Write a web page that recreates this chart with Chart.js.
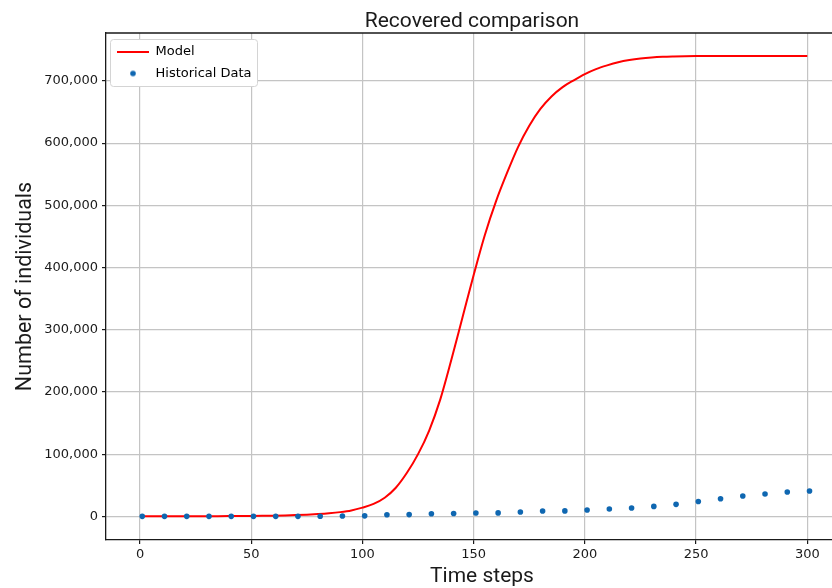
<!DOCTYPE html>
<html>
<head>
<meta charset="utf-8">
<title>Recovered comparison</title>
<script src="https://cdn.jsdelivr.net/npm/chart.js@4.4.1/dist/chart.umd.min.js"></script>
<style>
  html, body { margin: 0; padding: 0; background: #fff; overflow: hidden; }
  #wrap { width: 944px; height: 588px; }
</style>
</head>
<body>
<div id="wrap"><canvas id="chart" width="944" height="588"></canvas></div>
<script>
// --- Data ---
const seriesLabels = ['Model', 'Historical Data'];

const modelSteps = [0, 5, 10, 15, 20, 25, 30, 35, 40, 45,
    50, 55, 60, 65, 70, 75, 80, 85, 90, 95,
    100, 105, 110, 115, 120, 125, 130, 135, 140, 145,
    150, 155, 160, 165, 170, 175, 180, 185, 190, 195,
    200, 205, 210, 215, 220, 225, 230, 235, 240, 245,
    250, 255, 260, 265, 270, 275, 280, 285, 290, 295, 300];
const modelValues = [0, 0, 0, 100, 100, 200, 200, 300, 400, 500,
    600, 800, 1100, 1500, 2000, 2700, 3700, 5000, 6800, 9500,
    14000, 20000, 30000, 46000, 70000, 100000, 138000, 188000, 252000, 320000,
    388000, 452000, 506000, 552000, 594000, 628000, 655000, 675000, 690000, 701000,
    711000, 719000, 725000, 730000, 733500, 736000, 737700, 738800, 739400, 739800,
    740000, 740000, 740000, 740000, 740000, 740000, 740000, 740000, 740000, 740000, 740000];

const histSteps = [1, 11, 21, 31, 41, 51, 61, 71, 81, 91,
    101, 111, 121, 131, 141, 151, 161, 171, 181, 191,
    201, 211, 221, 231, 241, 251, 261, 271, 281, 291, 301];
const histValues = [0, 0, 0, 0, 0, 0, 0, 0, 100, 500,
    800, 2500, 2800, 4300, 4600, 5400, 5600, 7000, 8600, 8800,
    10200, 11800, 13400, 16000, 19300, 24000, 28400, 32700, 35900, 39100, 40700];

const xTicks = [0, 50, 100, 150, 200, 250, 300];
const yTicks = [0, 100000, 200000, 300000, 400000, 500000, 600000, 700000];

// --- Styles ---
const RED = '#ff0000';
const BLUE = '#0f67b1';
const INK = '#1a1a1a';
const GRID = '#c4c4c4';
const tickFont = { family: 'DejaVu Sans', size: 13 };
const titleFont = { family: 'Roboto', size: 21, lineHeight: 1.05 };

// small images used as legend markers (line sample and dot)
function legendMark(kind) {
    const c = document.createElement('canvas');
    const g = c.getContext('2d');
    if (kind === 'line') {
        c.width = 32; c.height = 2;
        g.fillStyle = RED;
        g.fillRect(0, 0, 32, 2);
    } else {
        c.width = 8; c.height = 8;
        g.fillStyle = BLUE;
        g.beginPath();
        g.arc(4, 4, 2.8, 0, Math.PI * 2);
        g.fill();
    }
    return c;
}
const marks = [legendMark('line'), legendMark('dot')];

// frame on top/right and the legend box like matplotlib
const framePlugin = {
    id: 'frame',
    afterLayout(chart) {
        const lg = chart.legend, a = chart.chartArea;
        lg.left = a.left + 2;
        lg.top = a.top + 3;
        lg.bottom = a.bottom;
    },
    afterDraw(chart) {
        const { ctx, chartArea: a } = chart;
        ctx.save();
        ctx.strokeStyle = INK;
        ctx.lineWidth = 1.3;
        ctx.beginPath();
        ctx.moveTo(a.left, a.top);
        ctx.lineTo(a.right, a.top);
        ctx.lineTo(a.right, a.bottom);
        ctx.stroke();

        const boxes = chart.legend.legendHitBoxes || [];
        const right = boxes.length ? Math.max(...boxes.map(b => b.left + b.width)) + 5 : a.left + 150;
        const x = a.left + 4, y = a.top + 6, w = Math.max(right, a.left + 151) - x, h = 47;
        ctx.fillStyle = '#fff';
        ctx.strokeStyle = '#d4d4d4';
        ctx.lineWidth = 1;
        ctx.beginPath();
        if (ctx.roundRect) ctx.roundRect(x + 0.5, y + 0.5, w, h, 3); else ctx.rect(x + 0.5, y + 0.5, w, h);
        ctx.fill();
        ctx.stroke();
        ctx.restore();
        chart.legend.draw();
    }
};

const ctx = document.getElementById('chart').getContext('2d');
const chart = new Chart(ctx, {
    type: 'scatter',
    data: {
        datasets: [{
            label: seriesLabels[0],
            data: modelSteps.map((x, i) => ({ x: x, y: modelValues[i] })),
            showLine: true,
            borderColor: RED,
            borderWidth: 2,
            pointRadius: 0,
            cubicInterpolationMode: 'monotone',
            order: 2
        }, {
            label: seriesLabels[1],
            data: histSteps.map((x, i) => ({ x: x, y: histValues[i] })),
            showLine: false,
            pointRadius: 2.8,
            pointBackgroundColor: BLUE,
            pointBorderWidth: 0,
            order: 1
        }]
    },
    options: {
        responsive: false,
        animation: false,
        devicePixelRatio: 1,
        layout: { padding: 0 },
        scales: {
            x: {
                type: 'linear',
                min: -15.3,
                max: 322.8,
                afterBuildTicks: s => { s.ticks = xTicks.map(v => ({ value: v })); },
                afterFit: s => { s.height = 48; },
                ticks: { font: tickFont, color: INK, padding: 3 },
                grid: { color: GRID, lineWidth: 1.2, tickLength: 4, tickColor: INK, tickWidth: 1.2 },
                border: { color: INK, width: 1.3 },
                title: { display: true, text: 'Time steps', font: titleFont, color: INK, padding: { top: 0, bottom: 0 } }
            },
            y: {
                type: 'linear',
                min: -38000,
                max: 777000,
                afterBuildTicks: s => { s.ticks = yTicks.map(v => ({ value: v })); },
                afterFit: s => { s.width = 106; },
                ticks: { font: tickFont, color: INK, padding: 4, callback: v => v.toLocaleString('en-US') },
                grid: { color: GRID, lineWidth: 1.2, tickLength: 4, tickColor: INK, tickWidth: 1.2 },
                border: { color: INK, width: 1.3 },
                title: { display: true, text: 'Number of individuals', font: { family: 'Roboto', size: 21.5, lineHeight: 1.05 }, color: INK, padding: { top: 14, bottom: 0 } }
            },
            // empty right-hand strip: the axes run on past the window edge, as in the reference
            yRight: {
                type: 'linear',
                position: 'right',
                afterFit: s => { s.width = 86; },
                ticks: { display: false },
                grid: { display: false, drawTicks: false },
                border: { display: false }
            }
        },
        plugins: {
            title: {
                display: true,
                text: 'Recovered comparison',
                font: { family: 'Roboto', size: 21, lineHeight: 1.0, weight: 'normal' },
                color: INK,
                fullSize: true,
                padding: { top: 11.5, bottom: 0.5 }
            },
            legend: {
                position: 'chartArea',
                align: 'start',
                labels: {
                    usePointStyle: true,
                    pointStyleWidth: 32,
                    padding: 9,
                    font: tickFont,
                    color: INK,
                    generateLabels: c => c.data.datasets.map((ds, i) => ({
                        text: ds.label,
                        pointStyle: marks[i],
                        fillStyle: i === 0 ? RED : BLUE,
                        strokeStyle: 'rgba(0,0,0,0)',
                        lineWidth: 0,
                        hidden: false,
                        datasetIndex: i
                    }))
                }
            },
            tooltip: { enabled: false }
        }
    },
    plugins: [framePlugin]
});
</script>
</body>
</html>
